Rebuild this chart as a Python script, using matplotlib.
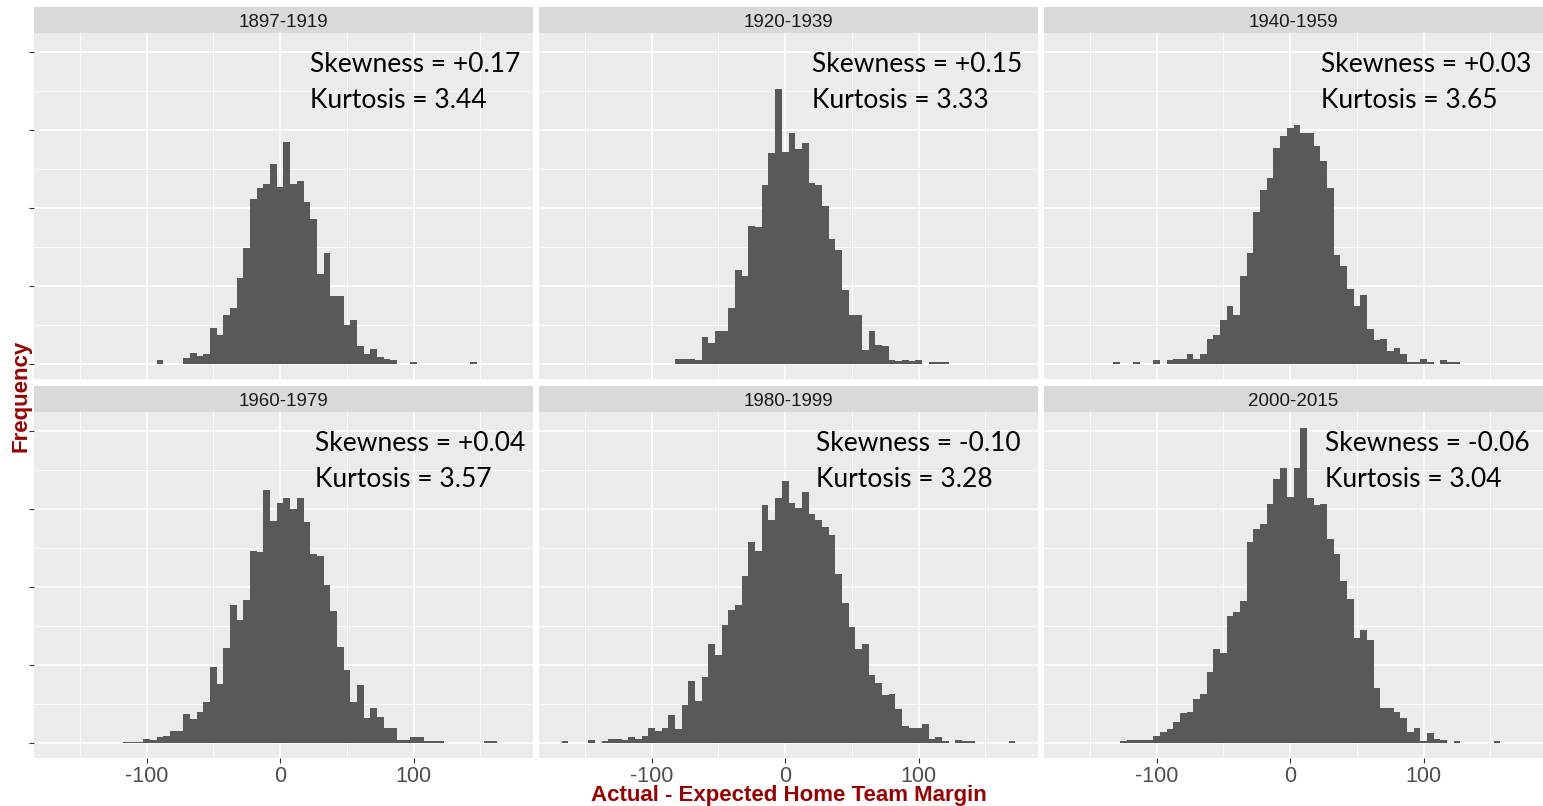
import matplotlib.pyplot as plt
import numpy as np

# bar heights per 5-point bin (major grid step = 100)
periods = ['1897-1919', '1920-1939', '1940-1959', '1960-1979', '1980-1999', '2000-2015']

start_1897 = -90
counts_1897 = [4, 0, 0, 0, 7, 14, 10, 12, 46, 37, 62, 72, 110, 148, 212, 226,
               230, 256, 227, 284, 230, 234, 208, 186, 115, 142, 87, 87, 50, 56, 22, 12,
               19, 9, 6, 4, 0, 0, 2, 0, 0, 0, 0, 0, 0, 0, 0, 2]

start_1920 = -80
counts_1920 = [6, 6, 6, 4, 34, 26, 42, 42, 72, 120, 112, 177, 176, 229, 270, 353,
               272, 296, 275, 283, 232, 229, 202, 160, 146, 94, 62, 62, 18, 42, 24, 22,
               4, 3, 4, 3, 4, 0, 2, 2, 2]

start_1940 = -130
counts_1940 = [2, 0, 0, 2, 0, 0, 4, 0, 4, 6, 6, 12, 6, 12, 32, 37,
               56, 74, 63, 112, 142, 195, 223, 238, 277, 292, 303, 307, 296, 296, 279, 260,
               226, 140, 125, 96, 74, 88, 44, 30, 32, 16, 20, 12, 2, 2, 6, 2,
               0, 4, 2, 2]

start_1960 = -115
counts_1960 = [1, 1, 1, 5, 3, 7, 9, 15, 15, 37, 30, 39, 52, 97, 75, 121,
               177, 158, 183, 246, 245, 324, 285, 308, 314, 300, 314, 283, 242, 240, 203, 169,
               123, 93, 52, 74, 31, 45, 33, 19, 19, 3, 3, 7, 7, 2, 2, 2,
               0, 0, 0, 0, 0, 0, 2, 2]

start_1980 = -165
counts_1980 = [2, 0, 0, 0, 3, 0, 2, 4, 4, 3, 7, 5, 9, 19, 15, 19,
               35, 17, 48, 79, 54, 84, 126, 112, 151, 170, 177, 214, 258, 246, 305, 286,
               314, 336, 308, 301, 322, 294, 286, 277, 266, 217, 179, 149, 120, 127, 87, 77,
               61, 63, 43, 21, 19, 19, 24, 5, 7, 2, 0, 3, 2, 2, 0, 0,
               0, 0, 0, 2]

start_2000 = -125
counts_2000 = [2, 3, 3, 3, 3, 9, 14, 18, 26, 38, 39, 56, 63, 91, 120, 115,
               162, 168, 182, 258, 274, 281, 306, 338, 353, 316, 353, 404, 314, 305, 306, 262,
               242, 208, 185, 134, 145, 132, 70, 45, 44, 39, 31, 14, 19, 2, 12, 4,
               3, 0, 2, 0, 0, 0, 0, 0, 2]

starts = [start_1897, start_1920, start_1940, start_1960, start_1980, start_2000]
counts = [counts_1897, counts_1920, counts_1940, counts_1960, counts_1980, counts_2000]

skewness = ['+0.17', '+0.15', '+0.03', '+0.04', '-0.10', '-0.06']
kurtosis = ['3.44', '3.33', '3.65', '3.57', '3.28', '3.04']

binwidth = 5
ann_x = [22, 20, 23, 26, 23, 26]

W, H = 1543, 806
fig = plt.figure(figsize=(W / 100, H / 100), dpi=100)
fig.patch.set_facecolor('white')

col_left = [34, 539, 1044]
col_w = 499
row_top = [33.3, 412.3]
row_h = 346
strip_h = 26

red = '#990000'
bar_col = '#595959'
for i, name in enumerate(periods):
    r, c = divmod(i, 3)
    l, t = col_left[c], row_top[r]
    ax = fig.add_axes([l / W, 1 - (t + row_h) / H, col_w / W, row_h / H])
    ax.set_facecolor('#EBEBEB')
    for s in ax.spines.values():
        s.set_visible(False)

    # one filled outline per histogram, so no seams between bins
    edges = starts[i] - binwidth / 2 + binwidth * np.arange(len(counts[i]) + 1)
    ax.stairs(counts[i], edges, fill=True, color=bar_col, linewidth=0, zorder=2)

    ax.set_xlim(-184.5, 189.5)
    ax.set_ylim(-20.2, 424.2)
    ax.set_xticks([-100, 0, 100])
    ax.set_xticks([-150, -50, 50, 150], minor=True)
    ax.set_yticks([0, 100, 200, 300, 400])
    ax.set_yticks([50, 150, 250, 350], minor=True)
    ax.set_axisbelow(True)
    ax.grid(which='major', color='white', lw=1.2)
    ax.grid(which='minor', color='white', lw=0.6)
    ax.tick_params(which='minor', length=0)
    ax.tick_params(which='major', color='#333333', length=3.5, width=0.8)
    ax.set_yticklabels([])
    if c != 0:
        ax.tick_params(axis='y', which='major', length=0)
    if r == 0:
        ax.tick_params(axis='x', which='major', length=0)
        ax.set_xticklabels([])
    else:
        ax.set_xticklabels(['-100', '0', '100'], fontsize=15.5, color='#4D4D4D',
                           family='Liberation Sans')
        ax.tick_params(axis='x', pad=2)

    ax.text(ann_x[i], 0.91, f'Skewness = {skewness[i]}', transform=ax.get_xaxis_transform(),
            ha='left', va='center', fontsize=19, family='Lato', color='black')
    ax.text(ann_x[i], 0.806, f'Kurtosis = {kurtosis[i]}', transform=ax.get_xaxis_transform(),
            ha='left', va='center', fontsize=19, family='Lato', color='black')

    sax = fig.add_axes([l / W, 1 - t / H, col_w / W, strip_h / H])
    sax.set_facecolor('#D9D9D9')
    sax.set_xticks([])
    sax.set_yticks([])
    for s in sax.spines.values():
        s.set_visible(False)
    sax.text(0.5, 0.4, name, ha='center', va='center', fontsize=13.5,
             family='Liberation Sans', color='#1A1A1A', transform=sax.transAxes)

fig.text(789 / W, 1 - 796 / H, 'Actual - Expected Home Team Margin', ha='center', va='center',
         fontsize=16, fontweight='bold', color=red, family='Liberation Sans')
fig.text(21 / W, 1 - 396 / H, 'Frequency', ha='center', va='center', rotation=90,
         fontsize=16, fontweight='bold', color=red, family='Liberation Sans')

fig.savefig('out.png', dpi=100)
